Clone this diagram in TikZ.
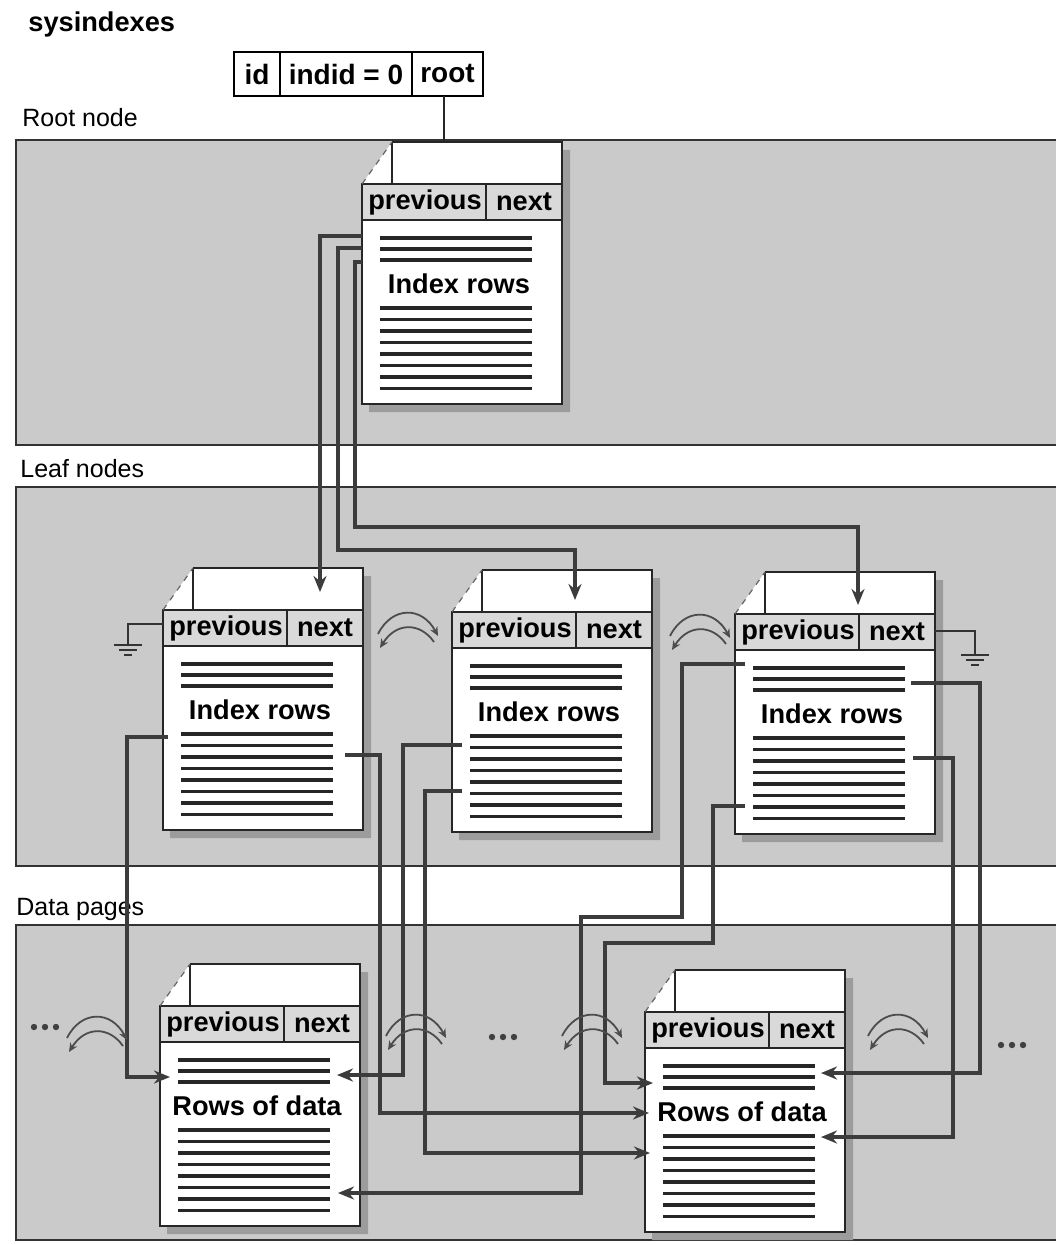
\documentclass[tikz,border=0pt]{standalone}
\usepackage{fontspec}
\setmainfont{Liberation Sans}
\usepackage{tikz}
\usetikzlibrary{positioning, arrows.meta, calc}
\definecolor{bandGray}{HTML}{CACACA}
\definecolor{hdrGray}{HTML}{D9D9D9}
\definecolor{shadowGray}{HTML}{9C9C9C}
\definecolor{wireGray}{HTML}{3C3C3C}

\tikzset{
  band/.style={fill=bandGray},
  bandline/.style={draw=black!80, line width=1pt},
  pline/.style={draw=black!85, line width=1pt},
  rowline/.style={draw=black!85, line width=1.6pt},
  wire/.style={draw=wireGray, line width=1.8pt, -{Stealth[length=8pt,width=6.5pt]}},
  hop/.style={draw=black!70, line width=0.9pt, -{Stealth[length=4.5pt,width=4pt]}},
  boldtxt/.style={font=\fontsize{13.6}{15}\selectfont\bfseries, inner sep=0pt},
  lbltxt/.style={font=\fontsize{12.5}{14}\selectfont, inner sep=0pt, anchor=base west},
  cell/.style={draw, line width=1pt, minimum height=22pt, inner sep=0pt, outer sep=0pt,
    font=\fontsize{14}{16}\selectfont\bfseries},
  gnd/.style={draw=black!80, line width=0.9pt}
}

% one page: name, left x, top y, text
\newcommand{\pagebox}[4]{%
  \begin{scope}[shift={(#2,#3)}]
    \fill[shadowGray] (200,8) rectangle (208,270) (7,262) rectangle (208,270);
    \fill[white] (0,42) -- (30,0) -- (200,0) -- (200,262) -- (0,262) -- cycle;
    \fill[hdrGray] (0,42) rectangle (200,78);
    \draw[pline] (30,0) -- (200,0) -- (200,262) -- (0,262) -- (0,42) -- (200,42);
    \draw[pline] (30,0) -- (30,42) (0,78) -- (200,78) (124,42) -- (124,78);
    \draw[black!60, line width=0.6pt, dashed] (0,42) -- (30,0);
    \node[boldtxt] (#1-prev) at (63,60) {previous};
    \node[boldtxt] (#1-next) at (162,60) {next};
    \node[boldtxt] (#1-text) at (97,142) {#4};
    \foreach \ry in {96,107,118}
      \draw[rowline] (18,\ry) -- (170,\ry);
    \foreach \ry in {166,177.5,...,247}
      \draw[rowline] (18,\ry) -- (170,\ry);
    \node[minimum width=100pt, minimum height=131pt, inner sep=0pt, outer sep=0pt] (#1) at (100,131) {};
  \end{scope}}

% prev/next link arcs
\newcommand{\hops}[2]{%
  \begin{scope}[shift={(#1,#2)}]
    \draw[hop] (-30,6) .. controls (-16,-22) and (14,-22) .. (30,8);
    \draw[hop] (26,14) .. controls (12,-6) and (-12,-6) .. (-28,20);
  \end{scope}}

\newcommand{\moredots}[2]{%
  \foreach \dx in {-11,0,11}
    \fill[black!75] (#1+\dx,#2) circle (1.6pt);}

\begin{document}
\begin{tikzpicture}[x=0.5pt, y=-0.5pt]
  \useasboundingbox (0,0) rectangle (1056,1245);

  % bands
  \fill[band] (16,140) rectangle (1056,445);
  \draw[bandline] (1056,140) -- (16,140) -- (16,445) -- (1056,445);
  \fill[band] (16,487) rectangle (1056,866);
  \draw[bandline] (1056,487) -- (16,487) -- (16,866) -- (1056,866);
  \fill[band] (16,925) rectangle (1056,1240);
  \draw[bandline] (1056,925) -- (16,925) -- (16,1240) -- (1056,1240);

  \node[boldtxt, anchor=base west] (title) at (28,32) {sysindexes};
  \node[lbltxt] (rootlbl) at (22,127) {Root node};
  \node[lbltxt] (leaflbl) at (20,477) {Leaf nodes};
  \node[lbltxt] (datalbl) at (16,915) {Data pages};

  % sysindexes row
  \node[cell, minimum width=23pt, anchor=west] (tid) at (234,74) {id};
  \node[cell, minimum width=66pt, right=0pt of tid] (tindid) {indid = 0};
  \node[cell, minimum width=35.5pt, right=0pt of tindid] (troot) {root};

  \pagebox{root}{362}{142}{Index rows}
  \pagebox{leafA}{163}{568}{Index rows}
  \pagebox{leafB}{452}{570}{Index rows}
  \pagebox{leafC}{735}{572}{Index rows}
  \pagebox{dataA}{160}{964}{Rows of data}
  \pagebox{dataB}{645}{970}{Rows of data}

  \draw[pline] ([xshift=-2pt]troot.south) -- ([xshift=-2pt]troot.south |- root.north);

  % root -> leaves
  \draw[wire] ($(root.north west)+(0,94)$) -| ($(leafA.north west)+(157,24)$);
  \draw[wire] ($(root.north west)+(0,106)$) -| (338,550) -| ($(leafB.north west)+(123,30)$);
  \draw[wire] ($(root.north west)+(0,120)$) -| (355,527) -| ($(leafC.north west)+(123,33)$);

  % leaves -> data pages
  \draw[wire] ($(leafA.north west)+(5,169)$) -| (127,1077) -- ($(dataA.north west)+(10,113)$);
  \draw[wire] ($(leafA.north east)+(-18,187)$) -| (380,1113) -- ($(dataB.north west)+(4,143)$);
  \draw[wire] ($(leafB.north west)+(10,175)$) -| (403,1075) -- ($(dataA.north east)+(-23,111)$);
  \draw[wire] ($(leafB.north west)+(10,221)$) -| (425,1153) -- ($(dataB.north west)+(5,183)$);
  \draw[wire] ($(leafC.north west)+(10,92)$) -| (682,917) -| (581,1193) -- ($(dataA.north east)+(-22,229)$);
  \draw[wire] ($(leafC.north west)+(10,234)$) -| (713,943) -| (605,1083) -- ($(dataB.north west)+(8,113)$);
  \draw[wire] ($(leafC.north east)+(-24,111)$) -| (980,1073) -- ($(dataB.north east)+(-24,103)$);
  \draw[wire] ($(leafC.north east)+(-22,186)$) -| (953,1137) -- ($(dataB.north east)+(-24,167)$);

  % grounds
  \draw[gnd] ($(leafA.north west)+(0,56)$) -| (128,645);
  \draw[gnd] (114,645) -- (142,645) (119,650) -- (137,650) (124,655) -- (132,655);
  \draw[gnd] ($(leafC.north east)+(0,59)$) -| (975,655);
  \draw[gnd] (961,655) -- (989,655) (966,660) -- (984,660) (971,665) -- (979,665);

  \hops{408}{628}
  \hops{700}{630}
  \hops{97}{1032}
  \hops{416}{1030}
  \hops{592}{1030}
  \hops{898}{1030}

  \moredots{45}{1027}
  \moredots{503}{1037}
  \moredots{1012}{1045}
\end{tikzpicture}
\end{document}
